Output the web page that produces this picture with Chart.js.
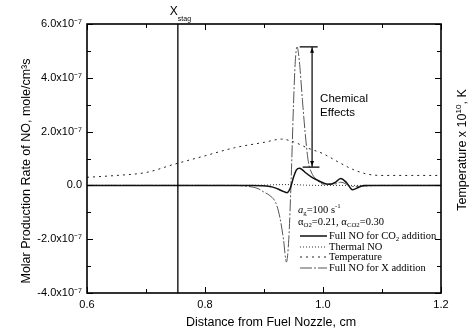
<!DOCTYPE html>
<html>
<head>
<meta charset="utf-8">
<script src="https://cdn.jsdelivr.net/npm/chart.js@4/dist/chart.umd.min.js"></script>
<style>
  html, body { margin: 0; padding: 0; background: #fff; }
  #wrap { width: 475px; height: 331px; }
</style>
</head>
<body>
<div id="wrap"><canvas id="myChart" width="475" height="331"></canvas></div>
<script>
// distance from fuel nozzle (cm), rates in units of 1e-7 mole/cm3s
const xStag = 0.754;

const distCO2 = [0.60, 0.80, 0.88, 0.91, 0.92, 0.93, 0.939, 0.945, 0.95, 0.955, 0.96, 0.965, 0.97, 0.98, 0.99, 1.00, 1.01, 1.02, 1.03, 1.04, 1.05, 1.06, 1.07, 1.10, 1.20];
const fullNOCO2 = [0, 0, 0, -0.04, -0.1, -0.2, -0.27, -0.08, 0.3, 0.58, 0.64, 0.58, 0.48, 0.32, 0.2, 0.1, 0.04, 0.1, 0.26, 0.1, -0.16, -0.08, 0, 0, 0];

const distX = [0.60, 0.85, 0.87, 0.89, 0.90, 0.91, 0.92, 0.927, 0.933, 0.938, 0.942, 0.946, 0.95, 0.953, 0.956, 0.96, 0.965, 0.97, 0.975, 0.98, 0.99, 1.00, 1.02, 1.03, 1.05, 1.10, 1.20];
const fullNOX = [0, 0, -0.03, -0.12, -0.25, -0.38, -0.65, -1.2, -2.0, -2.85, -2.0, 0.2, 3.0, 4.6, 5.15, 4.6, 3.2, 1.9, 0.9, 0.5, 0.2, 0.05, 0.05, 0.12, -0.04, 0, 0];

const distThermal = [0.60, 0.85, 0.90, 0.93, 0.95, 0.97, 1.00, 1.20];
const thermalNO = [0, 0, 0.01, 0.03, 0.03, 0.01, 0, 0];

const distTemp = [0.60, 0.65, 0.70, 0.75, 0.80, 0.85, 0.90, 0.93, 0.95, 0.975, 1.00, 1.025, 1.05, 1.075, 1.10, 1.15, 1.20];
const temperature = [0.30, 0.37, 0.48, 0.80, 1.10, 1.40, 1.60, 1.72, 1.62, 1.38, 1.18, 0.88, 0.60, 0.42, 0.37, 0.37, 0.37];

const xTicks = [0.6, 0.8, 1.0, 1.2];
const yTicks = [-4, -2, 0, 2, 4, 6];

const SANS = '"Liberation Sans", Arial, sans-serif';
const SERIF = '"Liberation Serif", "Times New Roman", serif';

function pts(xs, ys) {
  return xs.map((x, i) => ({ x: x, y: ys[i] }));
}

function yLabel(v) {
  if (v === 0) return '0.0';
  return v.toFixed(1) + 'x10\u207B\u2077';
}

// draws rich text: segments [text, kind] with kind n/sub/sup/i
function richText(ctx, x, y, segs, size, family) {
  let cx = x;
  segs.forEach(s => {
    let t = s[0], k = s[1] || 'n';
    let fs = size, dy = 0, st = '';
    if (k === 'sub') { fs = size * 0.65; dy = size * 0.3; }
    if (k === 'sup') { fs = size * 0.65; dy = -size * 0.35; }
    if (k === 'i') { st = 'italic '; }
    ctx.font = st + fs + 'px ' + (family || SERIF);
    ctx.fillText(t, cx, y + dy);
    cx += ctx.measureText(t).width;
  });
  return cx - x;
}

function richWidth(ctx, segs, size, family) {
  let w = 0;
  segs.forEach(s => {
    const k = s[1] || 'n';
    const fs = (k === 'sub' || k === 'sup') ? size * 0.65 : size;
    ctx.font = (k === 'i' ? 'italic ' : '') + fs + 'px ' + (family || SERIF);
    w += ctx.measureText(s[0]).width;
  });
  return w;
}

const extras = {
  id: 'extras',
  afterDraw(chart) {
    const ctx = chart.ctx;
    const a = chart.chartArea;
    const xs = chart.scales.x, ys = chart.scales.y;
    ctx.save();
    ctx.strokeStyle = '#000';
    ctx.fillStyle = '#000';

    // inner ticks
    ctx.lineWidth = 1;
    ctx.beginPath();
    xs.ticks.forEach(t => {
      const px = Math.round(xs.getPixelForValue(t.value)) + 0.5;
      const major = xTicks.some(v => Math.abs(v - t.value) < 1e-6);
      const len = major ? 6 : 4;
      ctx.moveTo(px, a.bottom); ctx.lineTo(px, a.bottom - len);
      ctx.moveTo(px, a.top); ctx.lineTo(px, a.top + len);
    });
    ys.ticks.forEach(t => {
      const py = Math.round(ys.getPixelForValue(t.value)) + 0.5;
      const major = yTicks.indexOf(Math.round(t.value)) >= 0;
      const len = major ? 6 : 4;
      ctx.moveTo(a.left, py); ctx.lineTo(a.left + len, py);
      ctx.moveTo(a.right, py); ctx.lineTo(a.right - len, py);
    });
    ctx.stroke();

    // frame
    ctx.lineWidth = 1.6;
    ctx.strokeRect(a.left, a.top, a.right - a.left, a.bottom - a.top);

    // x_stag line
    const sx = xs.getPixelForValue(xStag);
    ctx.lineWidth = 1.3;
    ctx.beginPath();
    ctx.moveTo(sx, a.top); ctx.lineTo(sx, a.bottom);
    ctx.stroke();
    ctx.font = '12px ' + SANS;
    ctx.textAlign = 'center';
    ctx.textBaseline = 'middle';
    ctx.fillText('X', sx - 4, a.top - 12);
    ctx.font = '7px ' + SANS;
    ctx.textAlign = 'left';
    ctx.fillText('stag', sx, a.top - 5);

    // chemical effects dimension
    const cxv = xs.getPixelForValue(0.9815);
    const cTop = ys.getPixelForValue(5.15);
    const cBot = ys.getPixelForValue(0.68);
    ctx.lineWidth = 1.2;
    ctx.beginPath();
    ctx.moveTo(cxv, cTop); ctx.lineTo(cxv, cBot);
    ctx.moveTo(xs.getPixelForValue(0.9605), cTop); ctx.lineTo(xs.getPixelForValue(0.991), cTop);
    ctx.moveTo(xs.getPixelForValue(0.9655), cBot); ctx.lineTo(xs.getPixelForValue(0.994), cBot);
    ctx.stroke();
    ctx.beginPath();
    ctx.moveTo(cxv, cTop + 1); ctx.lineTo(cxv - 2, cTop + 6); ctx.lineTo(cxv + 2, cTop + 6); ctx.closePath();
    ctx.moveTo(cxv, cBot - 1); ctx.lineTo(cxv - 2, cBot - 6); ctx.lineTo(cxv + 2, cBot - 6); ctx.closePath();
    ctx.fill();
    ctx.font = '11.5px ' + SANS;
    ctx.textAlign = 'left';
    ctx.fillText('Chemical', cxv + 8, 99);
    ctx.fillText('Effects', cxv + 8, 113);

    // legend
    ctx.textBaseline = 'middle';
    const lx = 298;
    richText(ctx, lx, 210, [['a', 'i'], ['g', 'sub'], ['=100 s'], ['-1', 'sup']], 10.5);
    richText(ctx, lx, 222, [['\u03B1'], ['O', 'sub'], ['2', 'sub'], ['=0.21, \u03B1'], ['CO', 'sub'], ['2', 'sub'], ['=0.30']], 10.5);
    const entries = [
      { y: 236, ds: 0, segs: [['Full NO for CO'], ['2', 'sub'], [' addition']] },
      { y: 247, ds: 1, segs: [['Thermal NO']] },
      { y: 257, ds: 2, segs: [['Temperature']] },
      { y: 268, ds: 3, segs: [['Full NO for X addition']] }
    ];
    entries.forEach(e => {
      const d = chart.data.datasets[e.ds];
      ctx.save();
      ctx.strokeStyle = d.borderColor;
      ctx.lineWidth = d.borderWidth;
      ctx.setLineDash(d.borderDash || []);
      ctx.beginPath();
      ctx.moveTo(300, e.y); ctx.lineTo(327, e.y);
      ctx.stroke();
      ctx.restore();
      richText(ctx, 329, e.y, e.segs, 10.5);
    });

    // axis titles
    ctx.font = '12.5px ' + SANS;
    ctx.textAlign = 'center';
    ctx.textBaseline = 'middle';
    ctx.fillText('Distance from Fuel Nozzle, cm', 271, 323);
    ctx.save();
    ctx.translate(27, 171);
    ctx.rotate(-Math.PI / 2);
    ctx.fillText('Molar Production Rate of NO, mole/cm\u00B3s', 0, 0);
    ctx.restore();
    ctx.save();
    ctx.translate(463, 150);
    ctx.rotate(-Math.PI / 2);
    ctx.textAlign = 'left';
    const tSegs = [['Temperature x 10'], ['10', 'sup'], [', K']];
    const tw = richWidth(ctx, tSegs, 12.5, SANS);
    richText(ctx, -tw / 2, 0, tSegs, 12.5, SANS);
    ctx.restore();

    ctx.restore();
  }
};

new Chart(document.getElementById('myChart'), {
  type: 'line',
  data: {
    datasets: [
      {
        label: 'Full NO for CO2 addition',
        data: pts(distCO2, fullNOCO2),
        borderColor: '#111',
        borderWidth: 1.5,
        order: 0
      },
      {
        label: 'Thermal NO',
        data: pts(distThermal, thermalNO),
        borderColor: '#333',
        borderWidth: 1,
        borderDash: [1, 2],
        order: 1
      },
      {
        label: 'Temperature',
        data: pts(distTemp, temperature),
        borderColor: '#222',
        borderWidth: 1,
        borderDash: [2, 4],
        order: 2
      },
      {
        label: 'Full NO for X addition',
        data: pts(distX, fullNOX),
        borderColor: '#555',
        borderWidth: 1,
        borderDash: [12, 2, 2, 2],
        order: 3
      }
    ]
  },
  options: {
    responsive: false,
    animation: false,
    layout: { padding: { top: 24 } },
    elements: {
      point: { radius: 0 },
      line: { cubicInterpolationMode: 'monotone', fill: false }
    },
    plugins: {
      legend: { display: false },
      tooltip: { enabled: false }
    },
    scales: {
      x: {
        type: 'linear',
        min: 0.6,
        max: 1.2,
        afterFit: s => { s.height = 38; },
        grid: { display: false, drawTicks: false },
        border: { display: false },
        ticks: {
          stepSize: 0.1,
          padding: 5,
          color: '#000',
          font: { family: SANS, size: 11 },
          maxRotation: 0,
          autoSkip: false,
          callback: v => xTicks.some(t => Math.abs(t - v) < 1e-6) ? v.toFixed(1) : ''
        }
      },
      y: {
        min: -4,
        max: 6,
        afterFit: s => { s.width = 87; },
        grid: { display: false, drawTicks: false },
        border: { display: false },
        ticks: {
          stepSize: 1,
          padding: 5,
          color: '#000',
          font: { family: SANS, size: 11 },
          autoSkip: false,
          callback: v => yTicks.indexOf(Math.round(v)) >= 0 ? yLabel(v) : ''
        }
      },
      y2: {
        position: 'right',
        min: -4,
        max: 6,
        afterFit: s => { s.width = 34; },
        grid: { display: false, drawTicks: false },
        border: { display: false },
        ticks: { display: false }
      }
    }
  },
  plugins: [extras]
});
</script>
</body>
</html>
